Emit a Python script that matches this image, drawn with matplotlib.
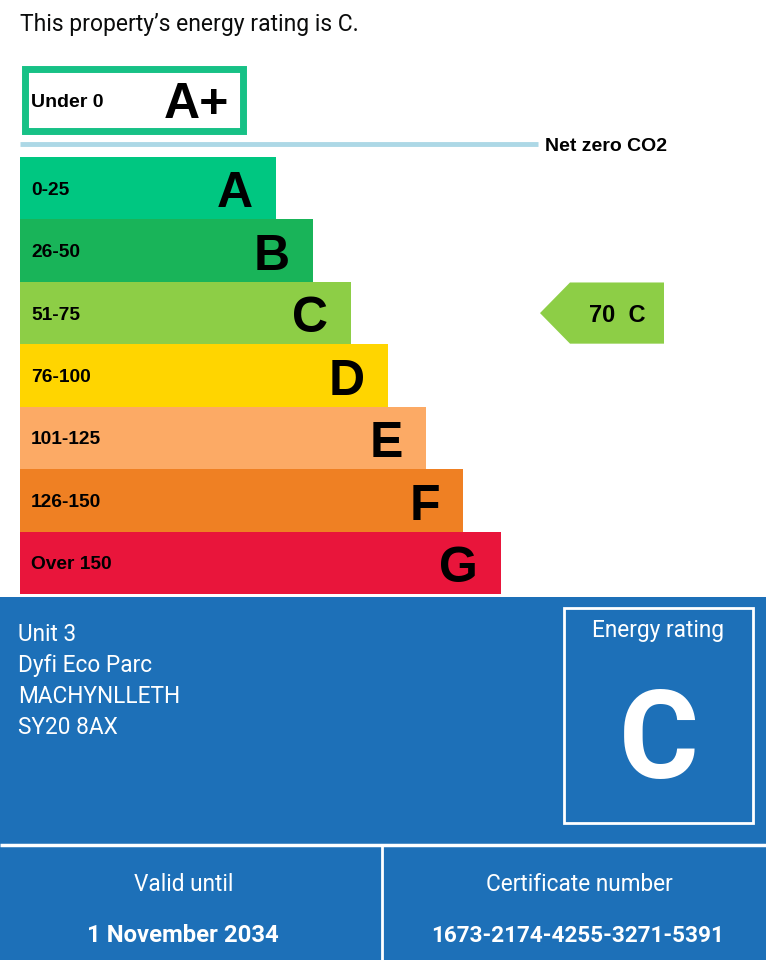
import matplotlib
matplotlib.use('Agg')
import matplotlib.pyplot as plt
from matplotlib.patches import Rectangle, Polygon

# data
bands = ['A', 'B', 'C', 'D', 'E', 'F', 'G']
ranges = ['0-25', '26-50', '51-75', '76-100', '101-125', '126-150', 'Over 150']
bar_len = [256, 293, 331, 368, 406, 443, 481]
colors = ['#00c781', '#19b459', '#8dce46', '#ffd500', '#fcaa65', '#ef8023', '#e9153b']
score = 70
rating = 'C'
address = ['Unit 3', 'Dyfi Eco Parc', 'MACHYNLLETH', 'SY20 8AX']
valid_until = '1 November 2034'
cert_number = '1673-2174-4255-3271-5391'

BLUE = '#1d70b8'
ARIAL = 'Liberation Sans'
GOV = 'Roboto'

W, H = 766, 960
fig = plt.figure(figsize=(W / 100, H / 100), dpi=100)
fig.patch.set_facecolor('white')

# page axes in pixel units, y down
ax = fig.add_axes([0, 0, 1, 1])
ax.set_xlim(0, W)
ax.set_ylim(H, 0)
ax.axis('off')

ax.text(20, 31, f'This property\u2019s energy rating is {rating}.', fontsize=16.5,
        family=GOV, color='#0b0c0c', va='baseline')

# A+ box
ax.add_patch(Rectangle((25, 69), 218, 62, facecolor='white', edgecolor='#17c186', lw=5))
ax.text(31, 107, 'Under 0', fontsize=14, family=ARIAL, weight='bold', va='baseline')
ax.text(229, 118, 'A+', fontsize=36, family=ARIAL, weight='bold', va='baseline', ha='right')

# net zero line
ax.plot([20, 538], [144, 144], color='#add8e6', lw=3.5, solid_capstyle='butt')
ax.text(545, 151, 'Net zero CO2', fontsize=14, family=ARIAL, weight='bold', va='baseline')

# bands axes, pixel x, band index y
top, bottom = 157, 594
bx = fig.add_axes([0, 1 - bottom / H, 1, (bottom - top) / H])
bx.set_xlim(0, W)
bx.set_ylim(len(bands) - 0.5, -0.5)
bx.axis('off')
bx.barh(range(len(bands)), bar_len, left=20, height=1.0, color=colors)
for i, (b, r, L) in enumerate(zip(bands, ranges, bar_len)):
    bx.text(31, i, r, fontsize=13.8, family=ARIAL, weight='bold', va='center_baseline')
    bx.text(20 + L - 23, i + 0.02, b, fontsize=36, family=ARIAL, weight='bold',
            va='center_baseline', ha='right')

# current rating arrow
ri = bands.index(rating)
arrow = Polygon([(540, ri), (570, ri - 0.49), (664, ri - 0.49), (664, ri + 0.49), (570, ri + 0.49)],
                closed=True, facecolor=colors[ri], edgecolor='none')
bx.add_patch(arrow)
bx.text(617, ri, f'{score}  {rating}', fontsize=17, family=ARIAL, weight='bold',
        va='center_baseline', ha='center')

# blue panel
ax.add_patch(Rectangle((0, 597), W, H - 597, facecolor=BLUE, edgecolor='none'))
for k, line in enumerate(address):
    ax.text(18, 641 + 31 * k, line, fontsize=16.3, family=GOV, color='white', va='baseline')

ax.add_patch(Rectangle((564, 608), 189, 215, facecolor='none', edgecolor='white', lw=2))
ax.text(658.5, 637, 'Energy rating', fontsize=16.3, family=GOV, color='white',
        va='baseline', ha='center')
ax.text(659, 778, rating, fontsize=88, family=GOV, weight='bold', color='white',
        va='baseline', ha='center')

ax.plot([0, W], [845, 845], color='white', lw=2.5, solid_capstyle='butt')
ax.plot([382, 382], [845, H], color='white', lw=2, solid_capstyle='butt')

ax.text(184, 891, 'Valid until', fontsize=16.3, family=GOV, color='white', va='baseline', ha='center')
ax.text(183, 942, valid_until, fontsize=17.2, family=GOV, weight='bold', color='white',
        va='baseline', ha='center')
ax.text(579, 891, 'Certificate number', fontsize=16.3, family=GOV, color='white',
        va='baseline', ha='center')
ax.text(578, 942, cert_number, fontsize=16.2, family=GOV, weight='bold', color='white',
        va='baseline', ha='center')

fig.savefig('out.png', dpi=100)
